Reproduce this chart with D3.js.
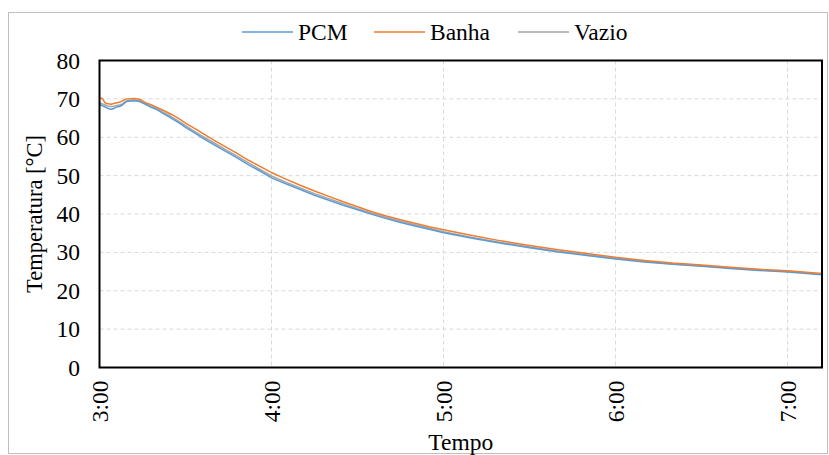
<!DOCTYPE html>
<html><head><meta charset="utf-8">
<script src="https://cdn.jsdelivr.net/npm/d3@7"></script>
<style>body{margin:0;background:#fff}svg{display:block}text{font-family:"Liberation Serif","Times New Roman",serif;fill:#000}</style>
</head><body><svg id="c" width="829" height="455"></svg>
<script>
// minutes after 3:00
const minutes = [0,1,2,3,4,5,6,7,8,9,10,12,14,16,18,20,22,25,28,30,33,36,40,44,48,52,56,60,65,70,75,80,85,90,95,100,105,110,115,120,130,140,150,160,170,180,190,200,210,220,230,240,252];
const pcm   = [68.6,68.2,67.9,67.5,67.3,67.5,67.9,68.0,68.4,69.1,69.4,69.5,69.3,68.6,67.8,67.2,66.3,65.0,63.6,62.6,61.2,59.8,58.0,56.3,54.6,52.8,51.2,49.4,47.9,46.4,44.9,43.6,42.3,41.1,39.9,38.8,37.8,36.9,36.0,35.1,33.7,32.4,31.2,30.1,29.2,28.3,27.5,26.9,26.4,25.8,25.3,24.9,24.2];
const banha = [70.3,70.1,68.9,68.7,68.6,68.8,69.0,69.1,69.5,69.9,70.0,70.1,69.9,69.0,68.5,67.8,67.1,66.0,64.7,63.7,62.4,61.0,59.2,57.5,55.8,54.0,52.4,50.8,49.1,47.5,46.0,44.6,43.2,41.9,40.6,39.5,38.5,37.6,36.7,35.9,34.4,33.0,31.8,30.7,29.7,28.7,27.9,27.2,26.7,26.1,25.6,25.2,24.5];
const vazio = [69.0,68.7,68.4,68.1,68.0,68.1,68.3,68.4,68.7,69.3,69.6,69.7,69.5,68.8,68.1,67.5,66.6,65.4,64.0,63.0,61.6,60.2,58.5,56.8,55.1,53.3,51.6,49.9,48.3,46.8,45.3,44.0,42.7,41.4,40.2,39.1,38.1,37.2,36.3,35.4,33.9,32.6,31.4,30.3,29.4,28.5,27.7,27.0,26.5,25.9,25.4,25.0,24.3];
const seriesNames = ["PCM","Banha","Vazio"];
const seriesColors = ["#5B9BD5","#ED7D31","#A5A5A5"];
const xTicks = ["3:00","4:00","5:00","6:00","7:00"];
const yTicks = [0,10,20,30,40,50,60,70,80];

const svg = d3.select("#c");
const L=99.5, R=822, T=60.5, B=367.5;
const FS = "23.5px";
svg.append("rect").attr("x",8.5).attr("y",12.5).attr("width",819).attr("height",441)
  .attr("fill","#fff").attr("stroke","#BFBFBF").attr("stroke-width",1);

const x = d3.scaleLinear().domain([0,252]).range([L,R]);
const y = d3.scaleLinear().domain([0,80]).range([B,T]);
const xVals = xTicks.map((d,i)=>i*60);

const g = svg.append("g");
g.selectAll(".gy").data(yTicks.slice(1)).join("line")
  .attr("x1",L).attr("x2",R).attr("y1",d=>y(d)).attr("y2",d=>y(d))
  .attr("stroke","#D9D9D9").attr("stroke-width",1).attr("stroke-dasharray","4,3");
g.selectAll(".gx").data(xVals.slice(1)).join("line")
  .attr("x1",d=>x(d)).attr("x2",d=>x(d)).attr("y1",T).attr("y2",B)
  .attr("stroke","#D9D9D9").attr("stroke-width",1).attr("stroke-dasharray","4,3");

const data = [pcm,banha,vazio];
const line = d3.line().x((d,i)=>x(minutes[i])).y(d=>y(d));
const order=[2,0,1];
order.forEach(k=>{
  g.append("path").datum(data[k]).attr("d",line).attr("fill","none")
   .attr("stroke",seriesColors[k]).attr("stroke-width",1.5).attr("stroke-linejoin","round");
});

svg.append("rect").attr("x",L).attr("y",T).attr("width",R-L).attr("height",B-T)
  .attr("fill","none").attr("stroke","#000").attr("stroke-width",2);

// axes
const yAxis = d3.axisLeft(y).tickValues(yTicks).tickSize(0).tickPadding(19.5);
const ya = svg.append("g").attr("transform",`translate(${L},0)`).call(yAxis);
ya.select(".domain").remove();
ya.selectAll("text").style("font-size",FS).style("font-family","Liberation Serif");

const xAxis = d3.axisBottom(x).tickValues(xVals).tickFormat((d,i)=>xTicks[i]).tickSize(0);
const xa = svg.append("g").attr("transform",`translate(0,${B})`).call(xAxis);
xa.select(".domain").remove();
xa.selectAll("text").attr("transform","rotate(-90)").attr("x",-13).attr("y",0).attr("dy","0.35em")
  .attr("text-anchor","end").style("font-size",FS).style("font-family","Liberation Serif");

svg.append("text").attr("x",(L+R)/2).attr("y",450).attr("text-anchor","middle")
  .style("font-size",FS).text("Tempo");
svg.append("text").attr("transform",`translate(42,${(T+B)/2}) rotate(-90)`).attr("text-anchor","middle")
  .style("font-size","22.5px").text("Temperatura [°C]");

// legend
const legX=[242,374,518];
seriesNames.forEach((n,i)=>{
  svg.append("line").attr("x1",legX[i]).attr("x2",legX[i]+51).attr("y1",32).attr("y2",32)
    .attr("stroke",seriesColors[i]).attr("stroke-width",1.5);
  svg.append("text").attr("x",legX[i]+56).attr("y",40).style("font-size",FS).text(n);
});
</script></body></html>
